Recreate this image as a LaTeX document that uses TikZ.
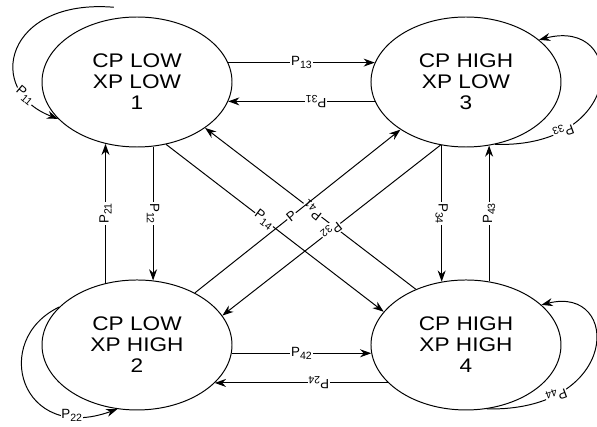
\documentclass[tikz,border=0pt]{standalone}
\usepackage{fontspec}
\setmainfont{Liberation Sans}
\newfontfamily\statefont[FakeStretch=1.15]{Liberation Sans}
\usetikzlibrary{arrows.meta, positioning, shapes.geometric}

\newcommand{\Pij}[1]{P\raisebox{-0.45ex}{\fontsize{7.5}{8}\selectfont #1}}

\begin{document}
\begin{tikzpicture}[
                ->,
                >={Stealth[length=2.8mm, width=2mm]},
                line width=0.7pt,
                state/.style={draw, ellipse, minimum width=4.75cm, minimum height=3.25cm,
                    inner sep=0pt, align=center, font=\statefont\fontsize{14}{15}\selectfont},
                prob/.style={fill=white, inner sep=0.6pt, font=\fontsize{9.5}{10}\selectfont}
            ]
                \useasboundingbox (0, 0) rectangle (14.925, 10.65);
                \node[state] (s1) at (3.425, 8.6) {CP LOW\\XP LOW\\1};
                \node[state, right=3.45cm of s1] (s3) {CP HIGH\\XP LOW\\3};
                \node[state, below=3.3cm of s1] (s2) {CP LOW\\XP HIGH\\2};
                \node[state, below=3.3cm of s3] (s4) {CP HIGH\\XP HIGH\\4};
                % straight transitions
                \draw (s1.12) -- node[prob] {\Pij{13}} (s3.168);
                \draw (s3.192) -- node[prob, pos=0.4, rotate=180] {\Pij{31}} (s1.348);
                \draw (s1.284) -- node[prob, rotate=-90] {\Pij{12}} (s2.76);
                \draw (s2.117) -- node[prob, rotate=90] {\Pij{21}} (s1.243);
                \draw (s3.249) -- node[prob, rotate=-90] {\Pij{34}} (s4.111);
                \draw (s4.70) -- node[prob, rotate=90] {\Pij{43}} (s3.290);
                \draw (s2.-5) -- node[prob] {\Pij{42}} (s4.185);
                \draw (s4.206) -- node[prob, pos=0.4, rotate=180] {\Pij{24}} (s2.334);
                % diagonals
                \draw (s1.295) -- node[prob, pos=0.45, rotate=-37] {\Pij{14}} (s4.158);
                \draw (s4.132) -- node[prob, pos=0.49, rotate=142] {\Pij{41}} (s1.326);
                \draw (s2.42) -- node[prob, pos=0.47, rotate=39] {P} (s3.216);
                \draw (s3.248) -- node[prob, pos=0.5, rotate=218] {\Pij{32}} (s2.19);
                % self loops
                \draw ([yshift=0.28cm]s1.110) .. controls +(-2.725, 0.225) and +(-1.85, 0.7) .. (s1.205)
                    node[prob, pos=0.8, rotate=-40] {\Pij{11}};
                \draw (s2.154) .. controls +(-1.725, -0.825) and +(-2.425, -0.875) .. (s2.253)
                    node[prob, pos=0.82] {\Pij{22}};
                \draw (s3.295) .. controls +(3.3, -0.1) and +(2.2, 0.575) .. (s3.30)
                    node[prob, pos=0.22, rotate=200] {\Pij{33}};
                \draw (s4.288) .. controls +(3.35, -0.075) and +(2.0, 0.5) .. (s4.28)
                    node[prob, pos=0.22, rotate=200] {\Pij{44}};
            \end{tikzpicture}
\end{document}
